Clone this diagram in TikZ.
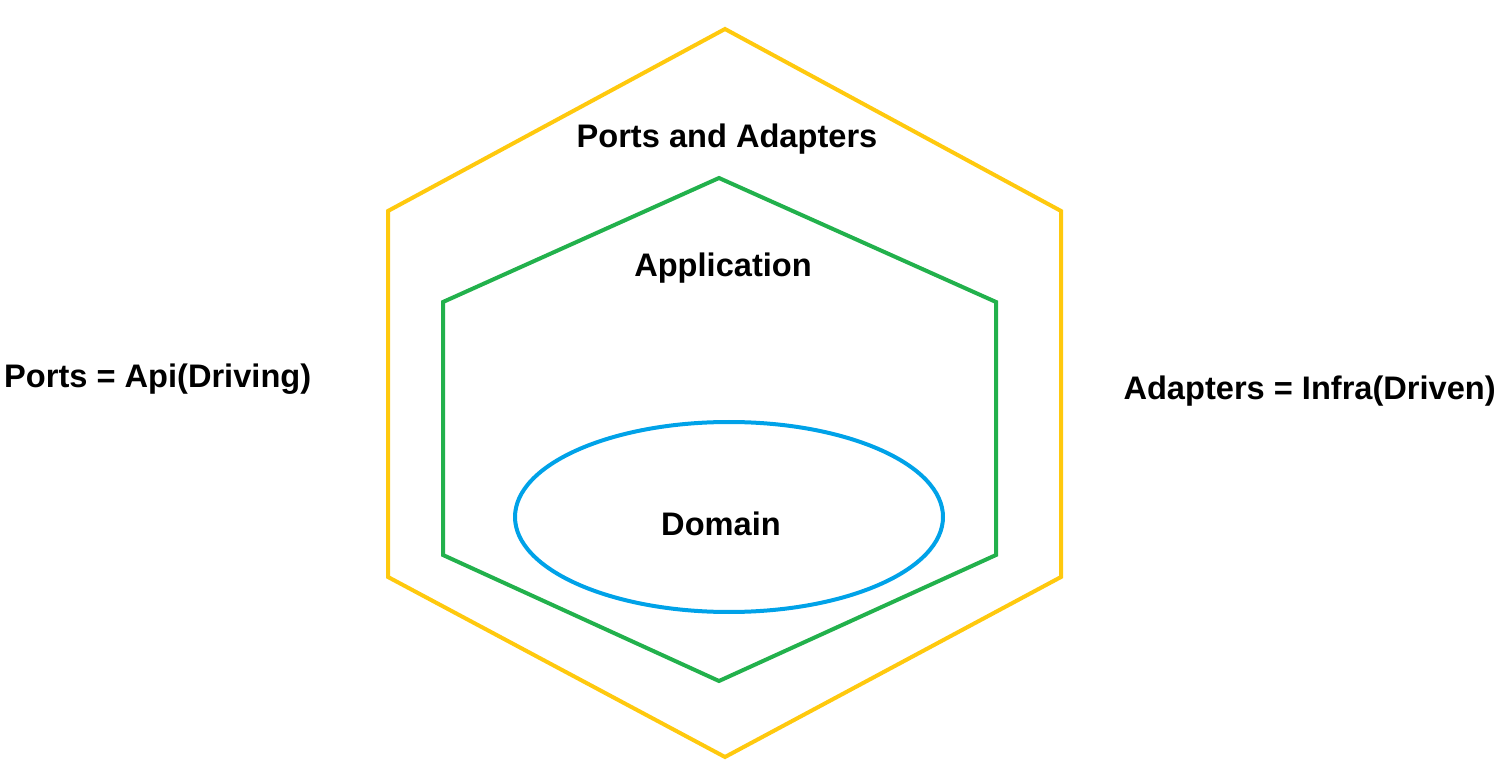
\documentclass[tikz,border=0pt]{standalone}
\usepackage{fontspec}
\setmainfont{Liberation Sans}
\definecolor{hexyellow}{HTML}{FFC90E}
\definecolor{hexgreen}{HTML}{22B14C}
\definecolor{hexblue}{HTML}{00A2E8}
\begin{document}
\begin{tikzpicture}[x=1pt,y=-1pt,
  lbl/.style={font=\fontsize{32.6}{38}\selectfont\bfseries, inner sep=0pt},
  shapeline/.style={line width=4pt, line join=miter}]
\useasboundingbox (0,0) rectangle (1508,783);
\draw[shapeline, hexyellow] (725,29) coordinate (o1) -- (1061,211) -- (1061,577) -- (725,757) -- (388,577) -- (388,211) -- cycle;
\draw[shapeline, hexgreen] (719,178) coordinate (g1) -- (996,302) -- (996,555) -- (719,681) -- (443,555) -- (443,302) -- cycle;
\draw[shapeline, hexblue] (729,517) ellipse [x radius=214, y radius=95];
\node[lbl] (pa) at (727,139) {Ports and Adapters};
\node[lbl] (app) at (723,268) {Application};
\node[lbl] (dom) at (721,524) {Domain};
\node[lbl, anchor=west] (ports) at (4,379) {Ports = Api(Driving)};
\node[lbl, anchor=east] (adapters) at (1496,391) {Adapters = Infra(Driven)};
\end{tikzpicture}
\end{document}
